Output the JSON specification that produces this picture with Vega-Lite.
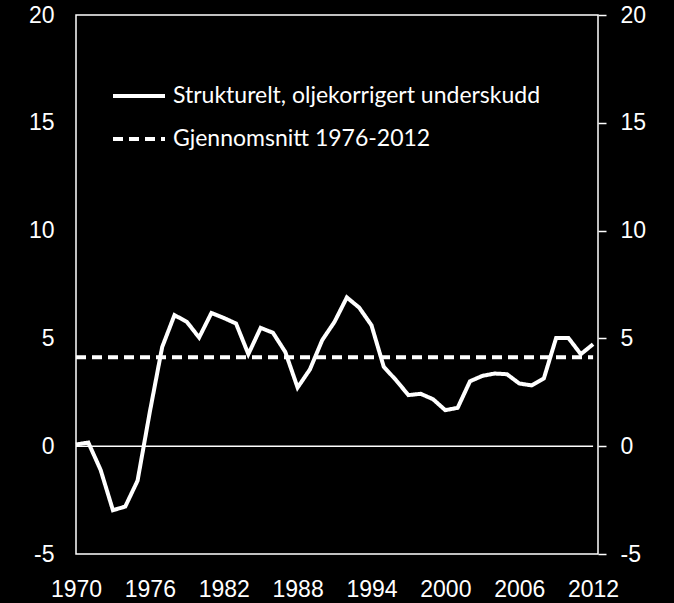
{
  "$schema": "https://vega.github.io/schema/vega-lite/v6.json",
  "width": 522,
  "height": 539,
  "autosize": {"type": "none"},
  "padding": {"left": 76, "top": 15, "right": 76, "bottom": 49},
  "background": "black",
  "config": {
    "view": {"stroke": "white", "strokeWidth": 1.5},
    "axis": {"labelFont": "Liberation Sans", "labelFontSize": 23, "labelColor": "white", "grid": false, "domain": false}
  },
  "datasets": {
    "main": [
      {"year": 1970, "value": 0.08, "series": "Strukturelt, oljekorrigert underskudd"},
      {"year": 1971, "value": 0.17, "series": "Strukturelt, oljekorrigert underskudd"},
      {"year": 1972, "value": -1.1, "series": "Strukturelt, oljekorrigert underskudd"},
      {"year": 1973, "value": -2.97, "series": "Strukturelt, oljekorrigert underskudd"},
      {"year": 1974, "value": -2.8, "series": "Strukturelt, oljekorrigert underskudd"},
      {"year": 1975, "value": -1.6, "series": "Strukturelt, oljekorrigert underskudd"},
      {"year": 1976, "value": 1.6, "series": "Strukturelt, oljekorrigert underskudd"},
      {"year": 1977, "value": 4.6, "series": "Strukturelt, oljekorrigert underskudd"},
      {"year": 1978, "value": 6.08, "series": "Strukturelt, oljekorrigert underskudd"},
      {"year": 1979, "value": 5.77, "series": "Strukturelt, oljekorrigert underskudd"},
      {"year": 1980, "value": 5.04, "series": "Strukturelt, oljekorrigert underskudd"},
      {"year": 1981, "value": 6.18, "series": "Strukturelt, oljekorrigert underskudd"},
      {"year": 1982, "value": 5.95, "series": "Strukturelt, oljekorrigert underskudd"},
      {"year": 1983, "value": 5.69, "series": "Strukturelt, oljekorrigert underskudd"},
      {"year": 1984, "value": 4.27, "series": "Strukturelt, oljekorrigert underskudd"},
      {"year": 1985, "value": 5.49, "series": "Strukturelt, oljekorrigert underskudd"},
      {"year": 1986, "value": 5.26, "series": "Strukturelt, oljekorrigert underskudd"},
      {"year": 1987, "value": 4.37, "series": "Strukturelt, oljekorrigert underskudd"},
      {"year": 1988, "value": 2.72, "series": "Strukturelt, oljekorrigert underskudd"},
      {"year": 1989, "value": 3.56, "series": "Strukturelt, oljekorrigert underskudd"},
      {"year": 1990, "value": 4.92, "series": "Strukturelt, oljekorrigert underskudd"},
      {"year": 1991, "value": 5.77, "series": "Strukturelt, oljekorrigert underskudd"},
      {"year": 1992, "value": 6.9, "series": "Strukturelt, oljekorrigert underskudd"},
      {"year": 1993, "value": 6.43, "series": "Strukturelt, oljekorrigert underskudd"},
      {"year": 1994, "value": 5.61, "series": "Strukturelt, oljekorrigert underskudd"},
      {"year": 1995, "value": 3.68, "series": "Strukturelt, oljekorrigert underskudd"},
      {"year": 1996, "value": 3.06, "series": "Strukturelt, oljekorrigert underskudd"},
      {"year": 1997, "value": 2.37, "series": "Strukturelt, oljekorrigert underskudd"},
      {"year": 1998, "value": 2.43, "series": "Strukturelt, oljekorrigert underskudd"},
      {"year": 1999, "value": 2.18, "series": "Strukturelt, oljekorrigert underskudd"},
      {"year": 2000, "value": 1.67, "series": "Strukturelt, oljekorrigert underskudd"},
      {"year": 2001, "value": 1.78, "series": "Strukturelt, oljekorrigert underskudd"},
      {"year": 2002, "value": 3.01, "series": "Strukturelt, oljekorrigert underskudd"},
      {"year": 2003, "value": 3.26, "series": "Strukturelt, oljekorrigert underskudd"},
      {"year": 2004, "value": 3.37, "series": "Strukturelt, oljekorrigert underskudd"},
      {"year": 2005, "value": 3.34, "series": "Strukturelt, oljekorrigert underskudd"},
      {"year": 2006, "value": 2.91, "series": "Strukturelt, oljekorrigert underskudd"},
      {"year": 2007, "value": 2.82, "series": "Strukturelt, oljekorrigert underskudd"},
      {"year": 2008, "value": 3.14, "series": "Strukturelt, oljekorrigert underskudd"},
      {"year": 2009, "value": 5.02, "series": "Strukturelt, oljekorrigert underskudd"},
      {"year": 2010, "value": 5.02, "series": "Strukturelt, oljekorrigert underskudd"},
      {"year": 2011, "value": 4.27, "series": "Strukturelt, oljekorrigert underskudd"},
      {"year": 2012, "value": 4.73, "series": "Strukturelt, oljekorrigert underskudd"},
      {"year": 1970, "value": 4.13, "series": "Gjennomsnitt 1976-2012"},
      {"year": 2012, "value": 4.13, "series": "Gjennomsnitt 1976-2012"}
    ],
    "zero": [
      {"year": 1970, "value": 0},
      {"year": 2012, "value": 0}
    ]
  },
  "layer": [
    {
      "data": {"name": "main"},
      "mark": {"type": "line", "color": "white", "strokeWidth": 4},
      "encoding": {
        "x": {
          "field": "year", "type": "quantitative",
          "scale": {"domain": [1970, 2012.4], "nice": false, "zero": false},
          "axis": {"title": null, "values": [1970, 1976, 1982, 1988, 1994, 2000, 2006, 2012], "labelExpr": "'' + datum.value", "ticks": false, "labelPadding": 24, "labelFlush": false, "labelFont": "Liberation Sans", "labelFontSize": 23, "labelColor": "white"}
        },
        "y": {
          "field": "value", "type": "quantitative",
          "scale": {"domain": [-5, 20], "nice": false},
          "axis": {"title": null, "values": [-5, 0, 5, 10, 15, 20], "labelExpr": "'' + datum.value", "ticks": false, "labelPadding": 22, "labelFont": "Liberation Sans", "labelFontSize": 23, "labelColor": "white"}
        },
        "strokeDash": {
          "field": "series", "type": "nominal",
          "scale": {"domain": ["Strukturelt, oljekorrigert underskudd", "Gjennomsnitt 1976-2012"], "range": [[1, 0], [10, 6]]},
          "legend": {
            "title": null, "orient": "none", "legendX": 35, "legendY": 53,
            "symbolType": "stroke", "symbolSize": 2704, "symbolStrokeWidth": 4, "symbolStrokeColor": "white",
            "labelFont": "Lato", "labelFontSize": 23, "labelColor": "white", "labelOffset": 6,
            "rowPadding": 3, "labelLimit": 600
          }
        }
      }
    },
    {
      "data": {"name": "zero"},
      "mark": {"type": "line", "color": "white", "strokeWidth": 1.5},
      "encoding": {
        "x": {
          "field": "year", "type": "quantitative",
          "axis": {"title": null, "values": [1970, 1976, 1982, 1988, 1994, 2000, 2006, 2012], "labelExpr": "'' + datum.value", "ticks": false, "labelPadding": 24, "labelFlush": false, "labelFont": "Liberation Sans", "labelFontSize": 23, "labelColor": "white"}
        },
        "y": {"field": "value", "type": "quantitative", "axis": null}
      }
    },
    {
      "data": {"name": "zero"},
      "mark": {"type": "point", "opacity": 0},
      "encoding": {
        "x": {
          "field": "year", "type": "quantitative",
          "axis": {"title": null, "values": [1970, 1976, 1982, 1988, 1994, 2000, 2006, 2012], "labelExpr": "'' + datum.value", "ticks": false, "labelPadding": 24, "labelFlush": false, "labelFont": "Liberation Sans", "labelFontSize": 23, "labelColor": "white"}
        },
        "y": {
          "field": "value", "type": "quantitative",
          "axis": {"orient": "right", "title": null, "values": [-5, 0, 5, 10, 15, 20], "labelExpr": "'' + datum.value", "ticks": true, "tickSize": 8, "tickColor": "white", "tickWidth": 1.5, "labelPadding": 14, "labelFont": "Liberation Sans", "labelFontSize": 23, "labelColor": "white"}
        }
      }
    }
  ],
  "resolve": {"scale": {"y": "shared"}, "axis": {"y": "independent"}}
}
